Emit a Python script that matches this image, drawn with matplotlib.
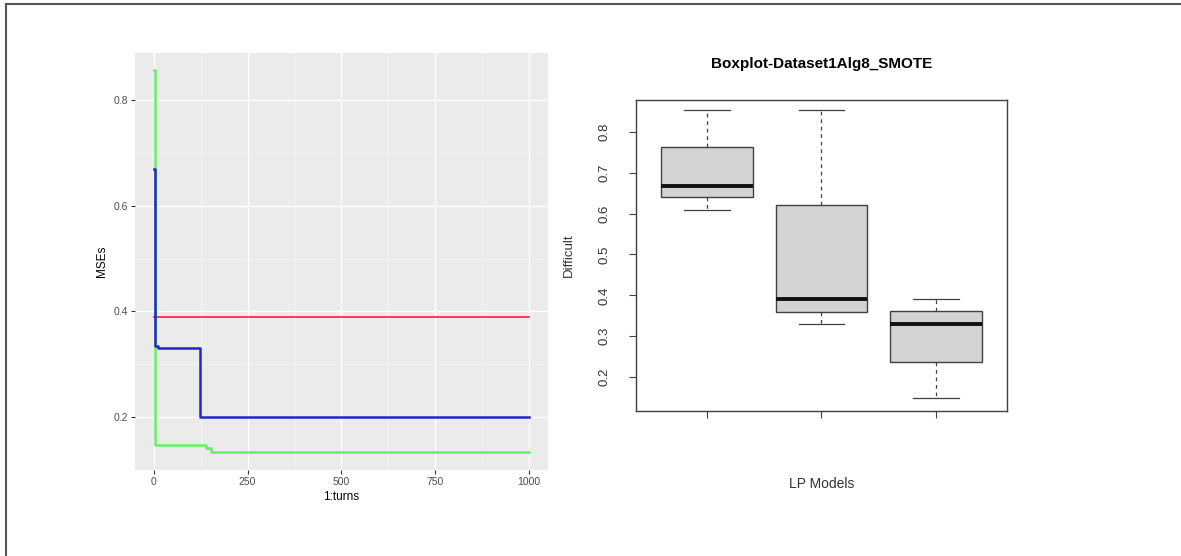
import matplotlib
matplotlib.use("Agg")
import matplotlib.pyplot as plt
from matplotlib.lines import Line2D

plt.rcParams["font.family"] = ["Liberation Sans", "DejaVu Sans"]

# left panel: MSE per turn (step change points)
red_turns = [1, 1000]
red_mse = [0.39, 0.39]
blue_turns = [1, 4, 12, 123, 1000]
blue_mse = [0.67, 0.335, 0.33, 0.2, 0.2]
green_turns = [1, 4, 140, 152, 1000]
green_mse = [0.857, 0.147, 0.142, 0.134, 0.134]

# right panel: boxplot statistics
models = ["1", "2", "3"]
whis_lo = [0.61, 0.33, 0.148]
q1 = [0.64, 0.36, 0.238]
medians = [0.668, 0.392, 0.331]
q3 = [0.763, 0.621, 0.361]
whis_hi = [0.853, 0.853, 0.39]

fig = plt.figure(figsize=(11.81, 5.56), dpi=100)

# ---- ggplot-like line chart ----
ax1 = fig.add_axes([0.1143, 0.1547, 0.3497, 0.75])
ax1.set_facecolor("#EBEBEB")
ax1.plot(green_turns, green_mse, drawstyle="steps-post", color="#66EE66", lw=1.8, zorder=3)
ax1.plot(red_turns, red_mse, drawstyle="steps-post", color="#FF2020", lw=1.2, zorder=4)
ax1.plot(blue_turns, blue_mse, drawstyle="steps-post", color="#2424CC", lw=1.8, zorder=5)
ax1.set_xlim(-50, 1050)
ax1.set_ylim(0.1, 0.889)
ax1.set_xticks([0, 250, 500, 750, 1000])
ax1.set_yticks([0.2, 0.4, 0.6, 0.8])
ax1.set_xticks([125, 375, 625, 875], minor=True)
ax1.set_yticks([0.3, 0.5, 0.7], minor=True)
ax1.grid(which="major", color="white", lw=1.0)
ax1.grid(which="minor", color="#F6F6F6", lw=0.5)
ax1.set_axisbelow(True)
for s in ax1.spines.values():
    s.set_visible(False)
ax1.tick_params(which="major", length=3, color="#333333", labelsize=7.5, labelcolor="#4D4D4D", pad=2)
ax1.tick_params(which="minor", length=0)
ax1.set_xlabel("1:turns", fontsize=8.5, labelpad=3)
ax1.set_ylabel("MSEs", fontsize=8.5, labelpad=4)

# ---- base-R-like boxplot ----
ax2 = fig.add_axes([0.5385, 0.2608, 0.3141, 0.5594])
stats = []
for i in range(len(models)):
    stats.append({"label": models[i], "whislo": whis_lo[i], "q1": q1[i],
                  "med": medians[i], "q3": q3[i], "whishi": whis_hi[i]})
ax2.bxp(stats, positions=[1, 2, 3], widths=0.8, patch_artist=True, showfliers=False,
        boxprops=dict(facecolor="#D3D3D3", edgecolor="#404040", lw=1.0),
        medianprops=dict(color="#111111", lw=2.8),
        whiskerprops=dict(color="#404040", lw=0.9, linestyle=(0, (3, 3))),
        capprops=dict(color="#404040", lw=0.9), capwidths=0.4)
ax2.set_xlim(0.38, 3.62)
ax2.set_ylim(0.117, 0.878)
ax2.set_yticks([0.2, 0.3, 0.4, 0.5, 0.6, 0.7, 0.8])
ax2.set_yticklabels(["0.2", "0.3", "0.4", "0.5", "0.6", "0.7", "0.8"], rotation=90, va="center")
ax2.set_xticks([1, 2, 3])
ax2.set_xticklabels(["", "", ""])
ax2.tick_params(axis="y", length=5, color="#404040", labelsize=9.5, labelcolor="#333333", pad=13)
ax2.tick_params(axis="x", length=5, color="#404040")
for s in ax2.spines.values():
    s.set_color("#404040")
    s.set_linewidth(1.0)
ax2.set_ylabel("Difficult", fontsize=9.5, color="#333333", labelpad=17)
ax2.set_xlabel("LP Models", fontsize=10, color="#333333", labelpad=39)
ax2.set_title("Boxplot-Dataset1Alg8_SMOTE", fontsize=11, fontweight="bold", pad=23)

# outer frame (top and left edges only)
fig.add_artist(Line2D([6 / 1181, 1], [1 - 4 / 556, 1 - 4 / 556], color="#555555", lw=1.5))
fig.add_artist(Line2D([6 / 1181, 6 / 1181], [0, 1 - 4 / 556], color="#555555", lw=1.5))

fig.savefig("out.png", dpi=100)
